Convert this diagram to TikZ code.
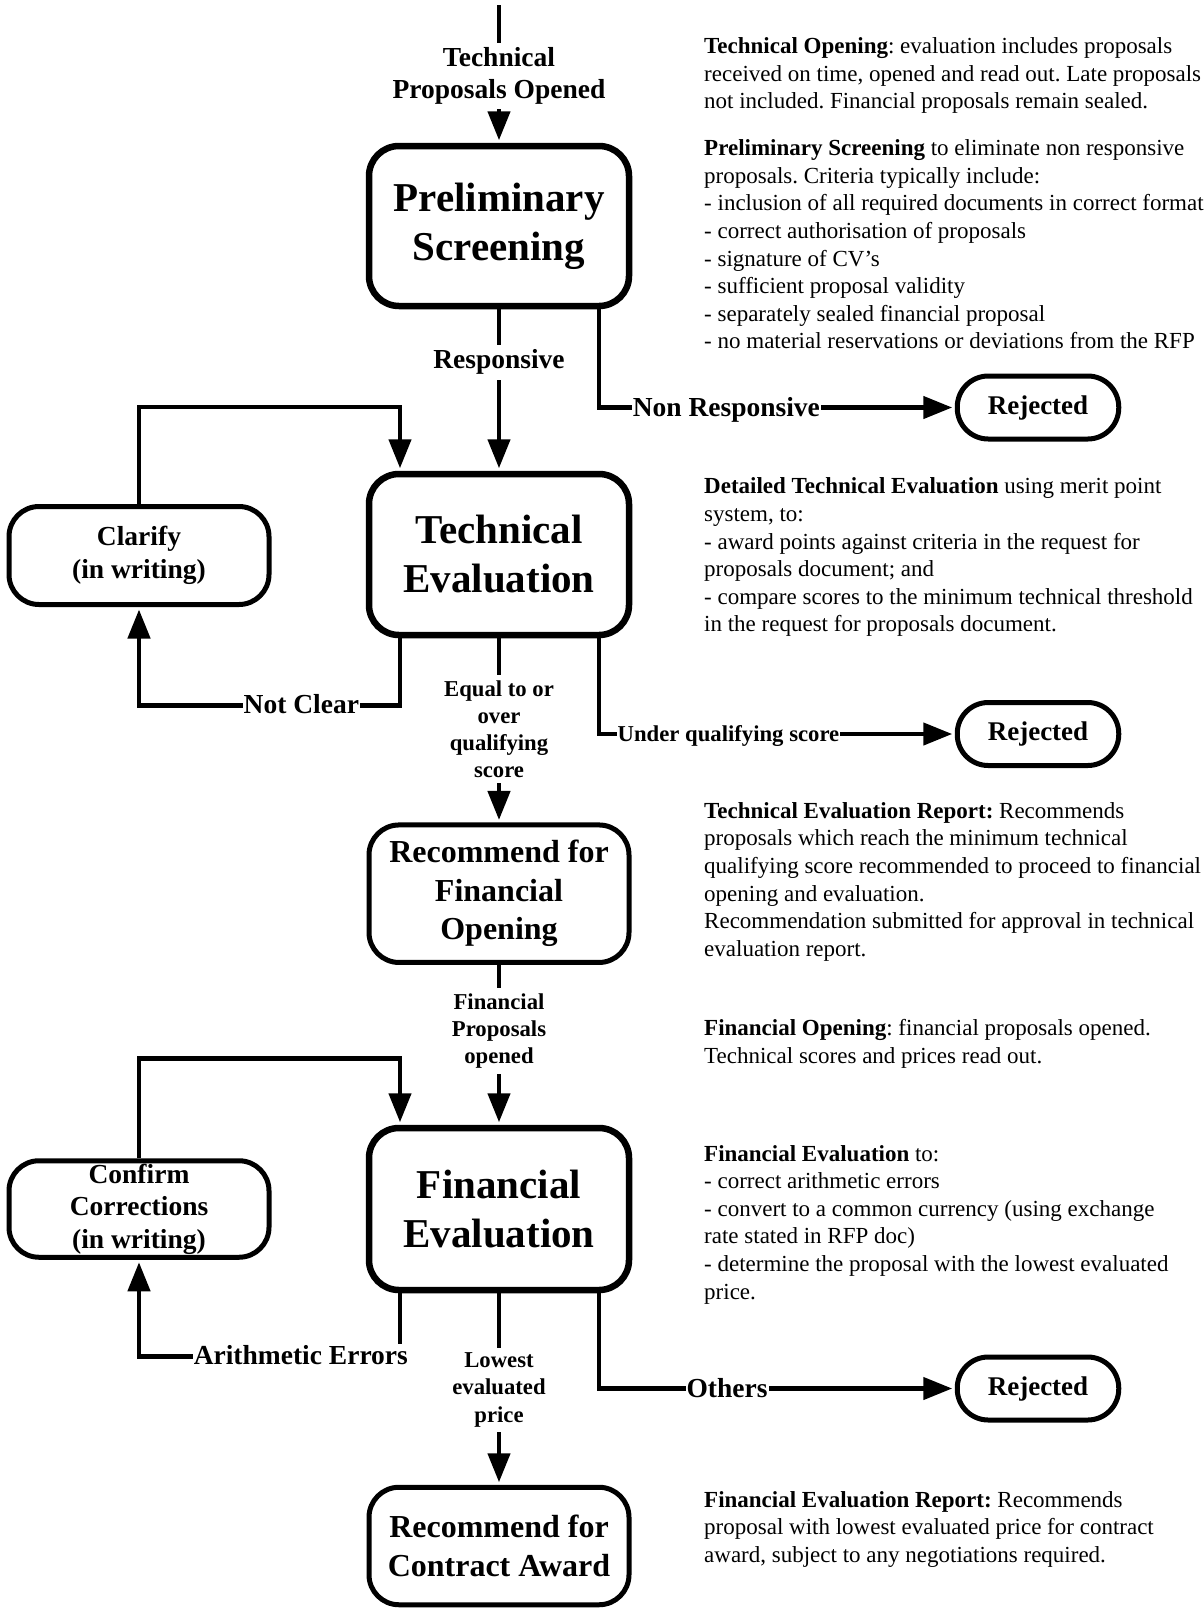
\documentclass[tikz,border=0pt]{standalone}
\usepackage{fontspec}
\setmainfont{Liberation Serif}
\frenchspacing
\usetikzlibrary{arrows.meta,calc}
\begin{document}
\frenchspacing
\begin{tikzpicture}[x=1pt,y=-1pt,
  conn/.style={line width=4.5pt},
  arr/.style={-{Triangle[length=29pt,width=22pt]}, shorten >=2.5pt},
  bigbox/.style={draw, line width=6.5pt, rounded corners=30pt, minimum width=260pt, inner sep=0pt, align=center, font=\fontsize{41}{49}\selectfont\bfseries},
  midbox/.style={draw, line width=5pt, rounded corners=30pt, minimum width=260pt, inner sep=0pt, align=center, font=\fontsize{32}{38.5}\selectfont\bfseries},
  sidebox/.style={draw, line width=5pt, rounded corners=30pt, minimum width=260pt, inner sep=0pt, align=center, font=\fontsize{27.5}{32.5}\selectfont\bfseries},
  rejbox/.style={draw, line width=5pt, rounded corners=31pt, minimum width=161.5pt, minimum height=63pt, inner sep=0pt, font=\fontsize{27}{32}\selectfont\bfseries},
  lblh/.style={fill=white, inner xsep=1pt, inner ysep=4pt, text height=17pt, text depth=0pt, font=\fontsize{27.5}{32}\selectfont\bfseries},
  lblhs/.style={fill=white, inner xsep=1pt, inner ysep=4pt, text height=14pt, text depth=0pt, font=\fontsize{22.7}{27.5}\selectfont\bfseries},
  lblv/.style={fill=white, inner xsep=2pt, inner ysep=5pt, align=center, font=\fontsize{22.7}{27.3}\selectfont\bfseries},
  lblvl/.style={fill=white, inner xsep=2pt, inner ysep=5pt, align=center, font=\fontsize{27.5}{31.7}\selectfont\bfseries},
  note/.style={anchor=north west, inner sep=0pt, align=left, font=\fontsize{23}{27.6}\selectfont\frenchspacing}
]
\fill[white] (0,0) rectangle (1203,1610);
\path[use as bounding box] (0,0) rectangle (1203,1610);

% main boxes
\node[bigbox, minimum height=160pt] (PS) at (499,226) {\raisebox{-3pt}{Preliminary}\\\raisebox{-3pt}{Screening}};
\node[bigbox, minimum height=161pt] (TE) at (499,554.5) {Technical\\Evaluation};
\node[midbox, minimum height=137.5pt] (RFO) at (499,893.7) {Recommend for\\Financial\\Opening};
\node[bigbox, minimum height=162pt] (FE) at (499,1209) {Financial\\Evaluation};
\node[midbox, minimum height=117.5pt] (RCA) at (499,1546) {Recommend for\\Contract Award};
\node[sidebox, minimum height=98pt] (CL) at (139,555.5) {Clarify\\(in writing)};
\node[sidebox, minimum height=96.5pt] (CC) at (139,1209) {Confirm\\Corrections\\(in writing)};
\node[rejbox] (RJ1) at (1038,407.5) {Rejected};
\node[rejbox] (RJ2) at (1038,734) {Rejected};
\node[rejbox] (RJ3) at (1038,1388.5) {Rejected};

% connectors
\coordinate (start) at (499,5);
\draw[conn,arr] (start) -- node[lblvl,pos=0.516]{Technical\\Proposals Opened} (PS.north);
\draw[conn,arr] (PS.south) -- node[lblvl,pos=0.327]{Responsive} (TE.north);
\draw[conn,arr] ($(PS.south)+(100,0)$) |- node[lblh,pos=0.679]{Non Responsive} (RJ1.west);
\draw[conn,arr] (CL.north) -- ++(0,-97) -| ($(TE.north)+(-99,0)$);
\draw[conn,arr] ($(TE.south)+(-99,0)$) -- ++(0,67) -| node[lblh,pos=0.189]{Not Clear} (CL.south);
\draw[conn,arr] (TE.south) -- node[lblv,pos=0.494]{Equal to or\\over\\qualifying\\score} (RFO.north);
\draw[conn,arr] ($(TE.south)+(100,0)$) |- node[lblhs,pos=0.682]{Under qualifying score} (RJ2.west);
\draw[conn,arr] (RFO.south) -- node[lblv,pos=0.413]{Financial\\Proposals\\opened} (FE.north);
\draw[conn,arr] (CC.north) -- ++(0,-100) -| ($(FE.north)+(-99,0)$);
\draw[conn,arr] ($(FE.south)+(-99,0)$) -- ++(0,63) -| node[lblh,pos=0.19]{Arithmetic Errors} (CC.south);
\draw[conn,arr] (FE.south) -- node[lblv,pos=0.505]{Lowest\\evaluated\\price} (RCA.north);
\draw[conn,arr] ($(FE.south)+(100,0)$) |- node[lblh,pos=0.68]{Others} (RJ3.west);

% notes
\node[note] (n1) at (704,33.3) {\rule{0pt}{20pt}\textbf{Technical Opening}: evaluation includes proposals\\received on time, opened and read out. Late proposals\\not included. Financial proposals remain sealed.};
\node[note] (n2) at (704,135.5) {\rule{0pt}{20pt}\textbf{Preliminary Screening} to eliminate non responsive\\proposals. Criteria typically include:\\- inclusion of all required documents in correct format\\- correct authorisation of proposals\\- signature of CV’s\\- sufficient proposal validity\\- separately sealed financial proposal\\- no material reservations or deviations from the RFP};
\node[note] (n3) at (704,473.6) {\rule{0pt}{20pt}\textbf{Detailed Technical Evaluation} using merit point\\system, to:\\- award points against criteria in the request for\\proposals document; and\\- compare scores to the minimum technical threshold\\in the request for proposals document.};
\node[note] (n4) at (704,798) {\rule{0pt}{20pt}\textbf{Technical Evaluation Report:} Recommends\\proposals which reach the minimum technical\\qualifying score recommended to proceed to financial\\opening and evaluation.\\Recommendation submitted for approval in technical\\evaluation report.};
\node[note] (n5) at (704,1015.6) {\rule{0pt}{20pt}\textbf{Financial Opening}: financial proposals opened.\\Technical scores and prices read out.};
\node[note] (n6) at (704,1140.8) {\rule{0pt}{20pt}\textbf{Financial Evaluation} to:\\- correct arithmetic errors\\- convert to a common currency (using exchange\\rate stated in RFP doc)\\- determine the proposal with the lowest evaluated\\price.};
\node[note] (n7) at (704,1487) {\rule{0pt}{20pt}\textbf{Financial Evaluation Report:} Recommends\\proposal with lowest evaluated price for contract\\award, subject to any negotiations required.};
\end{tikzpicture}
\end{document}
